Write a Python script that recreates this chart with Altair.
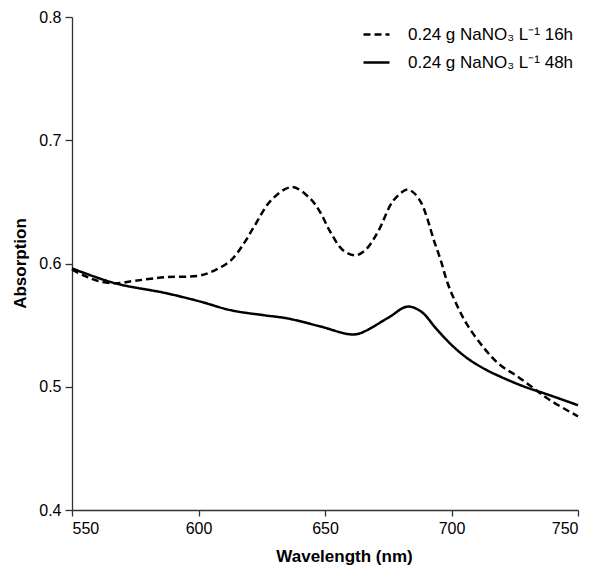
import altair as alt
import pandas as pd

# 16 h spectrum (dashed)
wl_16h = [550, 555, 560, 567, 575, 587, 600, 606, 613, 618, 622, 629, 637, 644, 648, 652, 657, 662,
          666, 671, 677, 682.5, 685, 688, 690.5, 693, 695.7, 698.3, 701.5, 706, 713, 719, 726, 732, 739, 750]
abs_16h = [0.595, 0.590, 0.586, 0.584, 0.586, 0.589, 0.590, 0.594, 0.603, 0.6165, 0.630, 0.652, 0.662,
           0.653, 0.642, 0.626, 0.611, 0.6066, 0.611, 0.626, 0.651, 0.660, 0.6575, 0.6494, 0.636, 0.619,
           0.603, 0.585, 0.569, 0.551, 0.531, 0.518, 0.5085, 0.4995, 0.489, 0.476]

# 48 h spectrum (solid)
wl_48h = [550, 567, 587, 600, 613, 626, 635, 648, 660, 664, 675, 682.5, 688, 694, 700, 706, 713, 719,
          728, 739, 750]
abs_48h = [0.596, 0.584, 0.576, 0.5695, 0.562, 0.558, 0.5555, 0.549, 0.5425, 0.5435, 0.556, 0.565, 0.561,
           0.547, 0.534, 0.5235, 0.5145, 0.5085, 0.5007, 0.493, 0.485]

series_names = ["0.24 g NaNO\u2083 L\u207b\u00b9 16h", "0.24 g NaNO\u2083 L\u207b\u00b9 48h"]
x_ticks = [550, 600, 650, 700, 750]
y_ticks = [0.4, 0.5, 0.6, 0.7, 0.8]

df = pd.concat([
    pd.DataFrame({"wl": wl_16h, "a": abs_16h, "s": series_names[0]}),
    pd.DataFrame({"wl": wl_48h, "a": abs_48h, "s": series_names[1]}),
])

font = "Liberation Sans"

chart = alt.Chart(df).mark_line(strokeWidth=2.5, color="black", interpolate="catmull-rom").encode(
    x=alt.X("wl:Q", scale=alt.Scale(domain=[550, 750], nice=False, zero=False),
            axis=alt.Axis(values=x_ticks, title="Wavelength (nm)", grid=False, format="d",
                          tickSize=6, labelPadding=4, titleX=272, titleY=51, titleBaseline="alphabetic",
                          titleAlign="center", titleAnchor="start")),
    y=alt.Y("a:Q", scale=alt.Scale(domain=[0.4, 0.8], nice=False, zero=False),
            axis=alt.Axis(values=y_ticks, title="Absorption", grid=False, format=".1f",
                          tickSize=7, labelPadding=4, titleX=-47, titleY=246, titleAngle=-90,
                          titleBaseline="alphabetic", titleAlign="center", titleAnchor="start")),
    strokeDash=alt.StrokeDash("s:N", scale=alt.Scale(domain=series_names, range=[[7, 4], [1, 0]]),
                              legend=alt.Legend(title=None, orient="none", legendX=290, legendY=3,
                                                symbolType="stroke", symbolSize=676, symbolStrokeWidth=2.5,
                                                symbolStrokeColor="black", labelOffset=17, rowPadding=5,
                                                labelFontSize=17, labelFont=font, labelColor="black",
                                                padding=0, labelLimit=400)),
).properties(
    width=506, height=493,
    autosize=alt.AutoSizeParams(type="none"),
    padding={"left": 64, "top": 9, "right": 14, "bottom": 60},
).configure_view(stroke=None).configure_axis(
    labelFont=font, labelFontSize=16, labelColor="black",
    titleFont=font, titleFontSize=17, titleFontWeight="bold", titleColor="black",
    domainColor="#333333", tickColor="#333333", domainWidth=1.3, tickWidth=1.3,
)

chart.save("out.html", embed_options={"renderer": "svg", "actions": False})
